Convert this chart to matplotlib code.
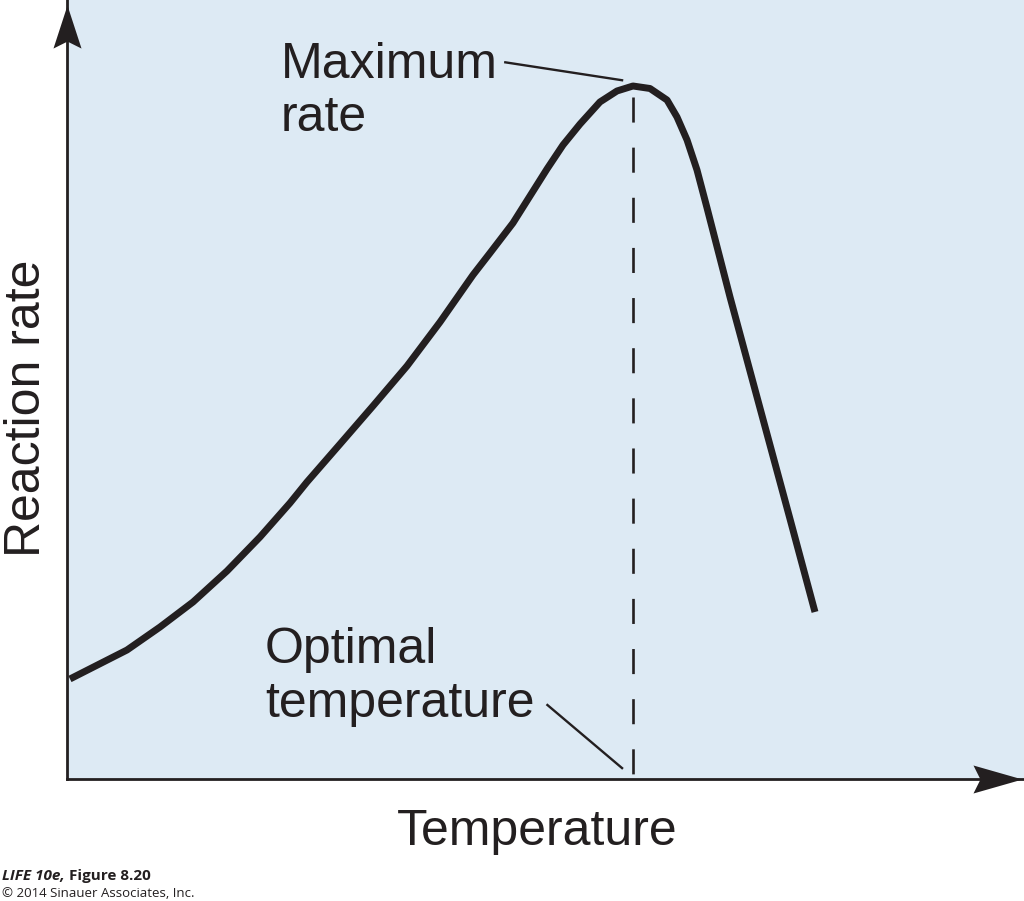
import matplotlib
matplotlib.use("Agg")
import matplotlib.pyplot as plt

# (arbitrary units, 0-100 on both axes)
temperature = [0.31, 6.27, 9.72, 13.17, 16.72, 20.17, 23.30, 25.08, 28.53, 31.97,
               35.53, 38.98, 42.42, 44.20, 46.60, 48.38, 50.16, 51.83, 53.61, 55.69,
               57.47, 59.14, 60.92, 62.70, 63.74, 64.79, 65.83, 66.88, 69.28, 72.41,
               75.55, 78.16]
rate = [12.84, 16.56, 19.51, 22.72, 26.70, 31.07, 35.43, 38.13, 43.00, 47.88,
        53.02, 58.66, 64.70, 67.52, 71.37, 74.84, 78.31, 81.39, 84.08, 86.91,
        88.32, 88.96, 88.64, 87.16, 84.98, 82.03, 78.18, 73.30, 61.87, 47.63,
        33.38, 21.44]
optimal_temp = 59.1
optimal_top = 87.5

ink = "#231f20"
blue = "#ddeaf4"
font = "Liberation Sans"

fig = plt.figure(figsize=(10.24, 9.01), dpi=100)
fig.patch.set_facecolor("white")
ax = fig.add_axes([67 / 1024, 1 - 779 / 901, (1024 - 67) / 1024, 779 / 901])
ax.set_facecolor(blue)
ax.set_xlim(0, 100)
ax.set_ylim(0, 100)
ax.set_xticks([])
ax.set_yticks([])
for side in ["top", "right"]:
    ax.spines[side].set_visible(False)
for side in ["left", "bottom"]:
    ax.spines[side].set_linewidth(2)
    ax.spines[side].set_color(ink)

# arrow heads at the ends of the axes
up_head = [(0, 0), (-14, -43), (0, -36), (14, -43), (0, 0)]
right_head = [(0, 0), (-49, 14), (-42, 0), (-49, -14), (0, 0)]
ax.plot([0], [0.9936], marker=up_head, markersize=62, color=ink, mec=ink, mew=0,
        transform=ax.transAxes, clip_on=False)
ax.plot([0.9979], [0], marker=right_head, markersize=70.6, color=ink, mec=ink, mew=0,
        transform=ax.transAxes, clip_on=False)

# curve and optimum line
ax.plot(temperature, rate, color=ink, lw=5, solid_capstyle="butt",
        solid_joinstyle="round", zorder=3)
ax.plot([optimal_temp, optimal_temp], [optimal_top, 0], color=ink, lw=1.9,
        dashes=(9.5, 9.5), zorder=2)

# labels with leader lines
ax.text(22.3, 90.0, "Maximum", fontsize=36, family=font, color=ink, va="baseline")
ax.text(22.3, 83.2, "rate", fontsize=36, family=font, color=ink, va="baseline")
ax.plot([45.8, 58.0], [92.0, 89.7], color=ink, lw=1.7)

ax.text(20.7, 14.9, "Optimal", fontsize=36, family=font, color=ink, va="baseline")
ax.text(20.7, 7.9, "temperature", fontsize=36, family=font, color=ink, va="baseline")
ax.plot([50.2, 58.0], [9.5, 1.4], color=ink, lw=1.7)

fig.text(27 / 1024, 1 - 408 / 901, "Reaction rate", rotation=90, fontsize=36,
         family=font, color=ink, ha="center", va="center")
fig.text(537 / 1024, 1 - 845 / 901, "Temperature", fontsize=36, family=font,
         color=ink, ha="center", va="baseline")

# credit line
fig.text(2 / 1024, 1 - 880 / 901, "LIFE 10e,", fontsize=11, family="Open Sans",
         weight="bold", style="italic", color=ink, va="baseline")
fig.text(69 / 1024, 1 - 880 / 901, "Figure 8.20", fontsize=11, family="Open Sans",
         weight="bold", color=ink, va="baseline")
fig.text(2 / 1024, 1 - 897 / 901, "\u00a9 2014 Sinauer Associates, Inc.", fontsize=9.5,
         family="Open Sans", color=ink, va="baseline")

fig.savefig("out.png", dpi=100)
